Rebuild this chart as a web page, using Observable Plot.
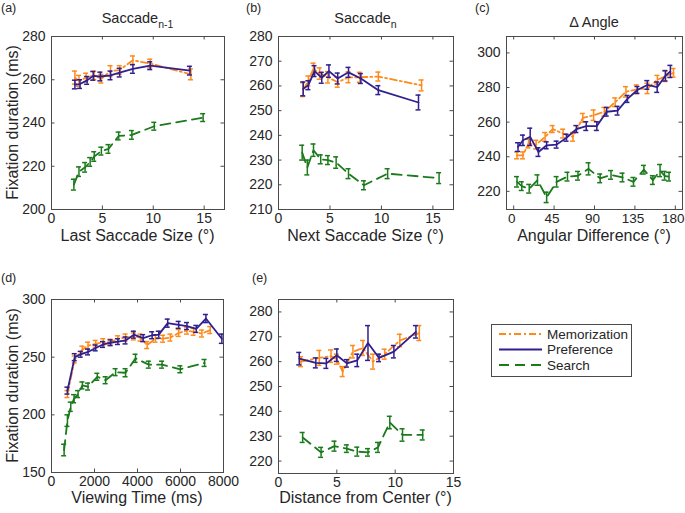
<!DOCTYPE html>
<html><head><meta charset="utf-8">
<script src="https://cdn.jsdelivr.net/npm/d3@7"></script>
<script src="https://cdn.jsdelivr.net/npm/@observablehq/plot@0.6"></script>
<style>
body{margin:0;background:#fff;}
#root{position:relative;width:685px;height:513px;overflow:hidden;background:#fff;}
.panel{position:absolute;}
.panel svg{overflow:visible;}
#overlay{position:absolute;left:0;top:0;pointer-events:none;}
</style></head><body><div id="root"></div>
<script>
// ---- series meta ----
const seriesNames = ["Memorization", "Preference", "Search"];
const seriesColors = ["#ff8a1c", "#2f1f8f", "#1b7a1b"];
const seriesDash = ["7,3,2,3", "none", "10,6"];

// ---- panel (a): Saccade n-1 ----
const aMemX = [2.3, 2.7, 3.4, 4.2, 4.9, 5.8, 6.7, 8.0, 9.7, 13.7];
const aMemY = [261, 259.5, 261, 262, 260.5, 264, 264.5, 269, 267.5, 262.5];
const aMemE = [3, 2.5, 2, 2, 2, 2.5, 2, 2, 2, 2.5];
const aPrefX = [2.3, 2.8, 3.5, 4.1, 4.8, 5.8, 6.7, 8.0, 9.7, 13.6];
const aPrefY = [257.8, 258, 259.7, 261.8, 261.5, 262, 263.3, 265, 266.5, 264.2];
const aPrefE = [2, 2, 1.8, 2, 2, 2, 2, 2, 1.8, 2];
const aSrchX = [2.2, 2.7, 3.3, 3.8, 4.2, 4.9, 5.6, 6.6, 7.9, 10.1, 14.9];
const aSrchY = [211.5, 217.5, 219.5, 222, 224.5, 227, 228, 234, 234.5, 238.5, 242.5];
const aSrchE = [2.5, 2.2, 2.2, 2, 2.2, 1.8, 2, 1.8, 2, 1.8, 1.8];
const aXTicks = [0, 5, 10, 15];
const aYTicks = [200, 220, 240, 260, 280];

// ---- panel (b): Saccade n ----
const bMemX = [2.4, 2.9, 3.4, 4.0, 4.8, 5.75, 6.8, 7.9, 9.7, 13.9];
const bMemY = [258.5, 262, 267, 265, 263.5, 261.5, 263.5, 263.5, 263.8, 260.2];
const bMemE = [2.8, 2, 2.2, 2.3, 2.3, 2, 2.2, 2, 1.8, 2.2];
const bPrefX = [2.4, 2.9, 3.5, 4.2, 4.9, 5.75, 6.8, 8.0, 9.7, 13.6];
const bPrefY = [258.8, 260.3, 266, 263.3, 266, 263, 265.5, 263, 258.3, 253.3];
const bPrefE = [2.8, 1.8, 2.2, 2.2, 2.5, 2.2, 2, 2, 1.8, 3];
const bSrchX = [2.3, 2.8, 3.4, 4.1, 4.8, 5.6, 6.8, 8.3, 10.6, 15.6];
const bSrchY = [233, 227, 234, 230.3, 230, 229, 224.5, 219.8, 224.5, 222.7];
const bSrchE = [3, 3, 2.5, 1.8, 1.8, 2.3, 2, 1.8, 2, 2.2];
const bXTicks = [0, 5, 10, 15];
const bYTicks = [210, 220, 230, 240, 250, 260, 270, 280];

// ---- panel (c): Delta Angle ----
const cMemX = [3.7, 10.3, 16.5, 25, 35, 43.4, 55, 66, 77, 89, 101, 113, 125, 137, 149, 160, 169, 178];
const cMemY = [240.8, 240.8, 247.6, 247, 251.5, 256, 253.4, 251.5, 262.5, 264, 266, 271.5, 277.5, 279, 279.5, 284.5, 286.5, 288.5];
const cMemE = [2, 2, 2.5, 2.5, 2.5, 2, 2.5, 2.5, 2.5, 3, 2.5, 2.5, 3, 2.5, 3, 2.5, 3, 2.5];
const cPrefX = [4.8, 10.3, 18.4, 27.6, 36.7, 47.8, 58.8, 69.8, 80.8, 92.6, 103.6, 115.7, 126.7, 137.8, 148.8, 159.8, 169, 174.5];
const cPrefY = [245.6, 249.5, 251.5, 242.7, 246.6, 247, 251, 256, 257.7, 257.7, 266, 266.6, 273.4, 278.6, 281.5, 280.2, 286.8, 289.3];
const cPrefE = [2.5, 3, 5, 2.5, 2, 2, 2, 2, 2.5, 2.5, 2.5, 2.5, 2, 2, 2.5, 3, 3, 3.5];
const cSrchX = [3.7, 9, 17.3, 26.5, 36.7, 47.8, 59.9, 71.6, 83.4, 96.3, 108.4, 121.2, 133.4, 145, 155, 163, 168, 173];
const cSrchY = [225.5, 223, 221.5, 226.5, 216.5, 225.5, 228.5, 229, 233, 227.5, 229.5, 228, 225.5, 232.5, 226.5, 232, 229, 228.5];
const cSrchE = [3, 2.5, 2.5, 3, 3, 3, 2.5, 2.5, 3.5, 2.5, 2.5, 2.5, 2.5, 2.5, 2.5, 3.5, 2.5, 2.5];
const cXTicks = [0, 45, 90, 135, 180];
const cYTicks = [220, 240, 260, 280, 300];

// ---- panel (d): Viewing Time ----
const dMemX = [741, 1081, 1436, 1699, 2054, 2409, 2749, 3089, 3444, 3830, 4139, 4448, 4834, 5189, 5529, 5915, 6301, 6610, 6996, 7382];
const dMemY = [218, 248, 256.5, 260, 261.5, 263, 263, 266, 267, 268, 267, 260.5, 266, 266, 267, 271, 273, 272, 270.5, 273.5];
const dMemE = [3, 3, 3, 3, 3, 3, 2.5, 2.5, 3, 3, 3, 3, 3, 3, 3, 3, 3, 3, 3, 3];
const dPrefX = [741, 1081, 1359, 1699, 2054, 2394, 2749, 3089, 3444, 3830, 4263, 4680, 4988, 5405, 5915, 6301, 6734, 7182, 7923];
const dPrefY = [221, 250, 252.5, 254.5, 258, 261, 262.5, 263.5, 264.5, 269.5, 266.5, 269, 269.5, 279.5, 278, 277, 274.5, 283.5, 266];
const dPrefE = [3, 3, 2.5, 2.5, 2.5, 2.5, 2.5, 2.5, 3, 3, 3, 3, 3, 3.5, 3, 3, 3, 3.5, 4];
const dSrchX = [587, 741, 896, 1050, 1236, 1436, 1699, 2131, 2517, 2981, 3444, 3908, 4525, 5143, 5992, 7120];
const dSrchY = [169.5, 195, 207, 214, 218, 225.5, 224.5, 233, 230, 237, 236.5, 249, 243.5, 243.5, 239.5, 245];
const dSrchE = [5, 5, 4, 3.5, 3, 3, 3, 3, 3, 3, 3.5, 3.5, 3, 3, 3, 3];
const dXTicks = [0, 2000, 4000, 6000, 8000];
const dYTicks = [150, 200, 250, 300];

// ---- panel (e): Distance from Center ----
const eMemX = [1.93, 3.5, 4.5, 5.0, 5.5, 6.38, 7.24, 8.1, 9.1, 10.4, 12.07];
const eMemY = [260, 261.5, 262.2, 261, 256, 264, 265.5, 260, 263, 268.5, 271.5];
const eMemE = [2, 3, 2.5, 2, 2, 2.5, 3, 3, 2, 2.5, 3];
const ePrefX = [1.78, 3.2, 4.1, 5.0, 5.86, 6.75, 7.67, 8.62, 9.89, 11.78];
const ePrefY = [261.2, 259.5, 259.3, 262.6, 259.3, 260.5, 267.5, 261.5, 264, 272];
const ePrefE = [2.5, 2, 2, 2.5, 1.5, 2.5, 7, 1.5, 2.5, 2.5];
const eSrchX = [2.07, 3.65, 4.8, 5.86, 6.75, 7.67, 8.53, 9.54, 10.63, 12.36];
const eSrchY = [229.5, 223.5, 226, 225, 223.8, 223.5, 225.5, 235.5, 230.5, 230.5];
const eSrchE = [2, 2, 2, 1.5, 1.8, 1.5, 2, 2.5, 2.5, 2];
const eXTicks = [0, 5, 10, 15];
const eYTicks = [220, 230, 240, 250, 260, 270, 280];

// ---- text ----
const FONT = "'Liberation Sans', Arial, Helvetica, sans-serif";
const TEXT = "#262626";
const AXIS = "#4a4a4a";

const panels = [
  {letter: "(a)", title: ["Saccade", "n-1"], xlabel: "Last Saccade Size (°)", ylabel: "Fixation duration (ms)",
   left: 0, top: 0, width: 230, height: 250, ml: 51, mr: 6, mt: 36, mb: 41,
   xDomain: [0, 17], yDomain: [200, 280], xTicks: aXTicks, yTicks: aYTicks, xFont: 14, xdx: 0,
   series: [[aMemX, aMemY, aMemE], [aPrefX, aPrefY, aPrefE], [aSrchX, aSrchY, aSrchE]],
   letterPos: [1, 12], titleY: 23, xlabelY: 241},
  {letter: "(b)", title: ["Saccade", "n"], xlabel: "Next Saccade Size (°)", ylabel: null,
   left: 230, top: 0, width: 228, height: 250, ml: 48, mr: 5, mt: 36, mb: 41,
   xDomain: [0, 17], yDomain: [210, 280], xTicks: bXTicks, yTicks: bYTicks, xFont: 14, xdx: 0,
   series: [[bMemX, bMemY, bMemE], [bPrefX, bPrefY, bPrefE], [bSrchX, bSrchY, bSrchE]],
   letterPos: [246, 12], titleY: 23, xlabelY: 241},
  {letter: "(c)", title: ["\u0394\u2009Angle", null], xlabel: "Angular Difference (°)", ylabel: null,
   left: 460, top: 0, width: 225, height: 250, ml: 46, mr: 3, mt: 36, mb: 41,
   xDomain: [-8, 188], yDomain: [209.5, 309.5], xTicks: cXTicks, yTicks: cYTicks, xFont: 13.5, xdx: -2,
   series: [[cMemX, cMemY, cMemE], [cPrefX, cPrefY, cPrefE], [cSrchX, cSrchY, cSrchE]],
   letterPos: [475, 12], titleY: 27, xlabelY: 241},
  {letter: "(d)", title: null, xlabel: "Viewing Time (ms)", ylabel: "Fixation duration (ms)",
   left: 0, top: 250, width: 230, height: 263, ml: 51, mr: 7, mt: 49, mb: 41,
   xDomain: [0, 8000], yDomain: [150, 300], xTicks: dXTicks, yTicks: dYTicks, xFont: 14, xdx: 0,
   series: [[dMemX, dMemY, dMemE], [dPrefX, dPrefY, dPrefE], [dSrchX, dSrchY, dSrchE]],
   letterPos: [1, 282], titleY: null, xlabelY: 503},
  {letter: "(e)", title: null, xlabel: "Distance from Center (°)", ylabel: null,
   left: 230, top: 250, width: 228, height: 263, ml: 48, mr: 5, mt: 49, mb: 40,
   xDomain: [0, 15], yDomain: [215, 285], xTicks: eXTicks, yTicks: eYTicks, xFont: 14, xdx: 0,
   series: [[eMemX, eMemY, eMemE], [ePrefX, ePrefY, ePrefE], [eSrchX, eSrchY, eSrchE]],
   letterPos: [252, 282], titleY: null, xlabelY: 503}
];

const root = document.getElementById("root");

function buildPanel(p) {
  const innerW = p.width - p.ml - p.mr;
  const innerH = p.height - p.mt - p.mb;
  const tl = 3.5;
  const marks = [
    Plot.tickY(p.yTicks, {y: d => d, insetRight: innerW - tl, stroke: AXIS}),
    Plot.tickY(p.yTicks, {y: d => d, insetLeft: innerW - tl, stroke: AXIS}),
    Plot.tickX(p.xTicks, {x: d => d, insetTop: innerH - tl, stroke: AXIS}),
    Plot.tickX(p.xTicks, {x: d => d, insetBottom: innerH - tl, stroke: AXIS}),
    Plot.axisY({ticks: p.yTicks, tickSize: 0, tickPadding: 6, fontSize: 14, label: null, tickFormat: d => String(d), fill: TEXT}),
    Plot.axisX({ticks: p.xTicks, tickSize: 0, tickPadding: 4, fontSize: p.xFont, dx: p.xdx, label: null, tickFormat: d => String(d), fill: TEXT})
  ];
  p.series.forEach(([xs, ys, es], si) => {
    const rows = xs.map((x, i) => ({x, y: ys[i], e: es[i]}));
    const color = seriesColors[si];
    marks.push(Plot.line(rows, {x: "x", y: "y", stroke: color, strokeWidth: 1.8,
      strokeDasharray: seriesDash[si] === "none" ? null : seriesDash[si]}));
    marks.push(Plot.ruleX(rows, {x: "x", y1: d => d.y - d.e, y2: d => d.y + d.e, stroke: color, strokeWidth: 1.5}));
    marks.push(Plot.ruleY(rows, {x1: "x", x2: "x", y: d => d.y + d.e, insetLeft: -2.5, insetRight: -2.5, stroke: color, strokeWidth: 1.5}));
    marks.push(Plot.ruleY(rows, {x1: "x", x2: "x", y: d => d.y - d.e, insetLeft: -2.5, insetRight: -2.5, stroke: color, strokeWidth: 1.5}));
  });
  marks.push(Plot.frame({stroke: AXIS, strokeWidth: 1}));
  const svg = Plot.plot({
    width: p.width, height: p.height,
    marginLeft: p.ml, marginRight: p.mr, marginTop: p.mt, marginBottom: p.mb,
    x: {type: "linear", domain: p.xDomain},
    y: {type: "linear", domain: p.yDomain},
    style: {fontFamily: FONT, color: TEXT, background: "transparent", maxWidth: "none", overflow: "visible"},
    marks
  });
  const div = document.createElement("div");
  div.className = "panel";
  div.style.left = p.left + "px";
  div.style.top = p.top + "px";
  div.style.width = p.width + "px";
  div.style.height = p.height + "px";
  div.appendChild(svg);
  root.appendChild(div);
}
panels.forEach(buildPanel);

// ---- overlay texts and legend ----
const NS = "http://www.w3.org/2000/svg";
const ov = document.createElementNS(NS, "svg");
ov.setAttribute("id", "overlay");
ov.setAttribute("width", 685);
ov.setAttribute("height", 513);
ov.style.fontFamily = FONT;
root.appendChild(ov);
function txt(x, y, s, size, anchor, extra) {
  const t = document.createElementNS(NS, "text");
  t.setAttribute("x", x); t.setAttribute("y", y);
  t.setAttribute("font-size", size);
  t.setAttribute("fill", TEXT);
  t.setAttribute("text-anchor", anchor || "start");
  if (extra) for (const k in extra) t.setAttribute(k, extra[k]);
  t.textContent = s;
  ov.appendChild(t);
  return t;
}
panels.forEach(p => {
  const cx = p.left + p.ml + (p.width - p.ml - p.mr) / 2;
  const cy = p.top + p.mt + (p.height - p.mt - p.mb) / 2;
  txt(p.letterPos[0], p.letterPos[1], p.letter, 12.5);
  if (p.title) {
    const t = txt(cx, p.titleY, "", 14.5, "middle");
    const a = document.createElementNS(NS, "tspan");
    a.textContent = p.title[0];
    t.appendChild(a);
    if (p.title[1]) {
      const b = document.createElementNS(NS, "tspan");
      b.setAttribute("font-size", 10.5);
      b.setAttribute("dy", 5);
      b.textContent = p.title[1];
      t.appendChild(b);
    }
  }
  txt(cx, p.xlabelY, p.xlabel, 16, "middle");
  if (p.ylabel) txt(18, cy, p.ylabel, 16, "middle", {transform: `rotate(-90 18 ${cy})`});
});

// legend
const lg = {x: 491, y: 324, w: 140, h: 52};
const box = document.createElementNS(NS, "rect");
box.setAttribute("x", lg.x + 0.5); box.setAttribute("y", lg.y + 0.5);
box.setAttribute("width", lg.w); box.setAttribute("height", lg.h);
box.setAttribute("fill", "#fff"); box.setAttribute("stroke", AXIS);
ov.appendChild(box);
seriesNames.forEach((name, i) => {
  const yy = lg.y + 10 + i * 15.5;
  const l = document.createElementNS(NS, "line");
  l.setAttribute("x1", lg.x + 8); l.setAttribute("x2", lg.x + 51);
  l.setAttribute("y1", yy); l.setAttribute("y2", yy);
  l.setAttribute("stroke", seriesColors[i]); l.setAttribute("stroke-width", 1.8);
  if (seriesDash[i] !== "none") l.setAttribute("stroke-dasharray", seriesDash[i]);
  ov.appendChild(l);
  txt(lg.x + 56, yy + 4.5, name, 13.5);
});
</script></body></html>
